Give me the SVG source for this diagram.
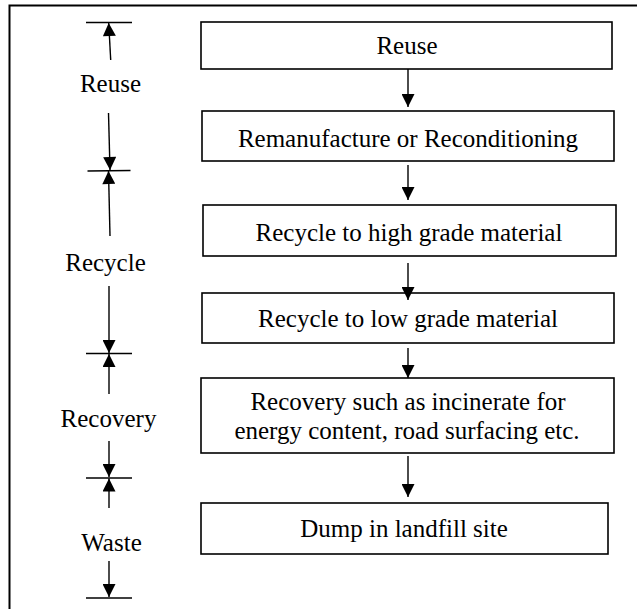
<svg xmlns="http://www.w3.org/2000/svg" width="637" height="609" viewBox="0 0 637 609">
<style>
text{font-family:"Liberation Serif","Times New Roman",serif;font-size:25px;fill:#000;text-anchor:middle}
.box{fill:#fff;stroke:#000;stroke-width:1.6}
.ln{stroke:#000;stroke-width:1.4;fill:none}
.bar{stroke:#000;stroke-width:1.5}
.frame{stroke:#000;stroke-width:2;fill:none}
</style>
<defs>
<marker id="ah" viewBox="0 0 10 10" refX="10" refY="5" markerWidth="14" markerHeight="13" markerUnits="userSpaceOnUse" orient="auto">
<path d="M0,0 L10,5 L0,10 z" fill="#000"/>
</marker>
</defs>
<g id="frame">
<path class="frame" d="M9.5,609 L9.5,5.5 L637,5.5"/>
</g>
<g id="node-reuse">
<rect class="box" x="201" y="22" width="411" height="47"/>
<text x="407" y="54">Reuse</text>
</g>
<g id="node-remanufacture">
<rect class="box" x="202" y="111" width="412" height="50"/>
<text x="408" y="147">Remanufacture or Reconditioning</text>
</g>
<g id="node-recycle-high">
<rect class="box" x="203" y="205" width="413" height="51"/>
<text x="409" y="241">Recycle to high grade material</text>
</g>
<g id="node-recycle-low">
<rect class="box" x="202" y="293" width="412" height="50"/>
<text x="408" y="327">Recycle to low grade material</text>
</g>
<g id="node-recovery">
<rect class="box" x="201" y="378" width="413" height="75"/>
<text x="408" y="410">Recovery such as incinerate for</text>
<text x="407" y="439">energy content, road surfacing etc.</text>
</g>
<g id="node-dump">
<rect class="box" x="201" y="503" width="407" height="51"/>
<text x="404" y="537">Dump in landfill site</text>
</g>
<g id="labels">
<text x="110.5" y="92">Reuse</text>
<text x="105.5" y="271">Recycle</text>
<text x="108.5" y="427">Recovery</text>
<text x="111.5" y="551">Waste</text>
</g>
<g id="connectors">
<line class="ln" x1="408" y1="69" x2="408" y2="107" marker-end="url(#ah)"/>
<line class="ln" x1="408" y1="165" x2="408" y2="200" marker-end="url(#ah)"/>
<line class="ln" x1="408" y1="263" x2="408" y2="300" marker-end="url(#ah)"/>
<line class="ln" x1="408" y1="348" x2="408" y2="378" marker-end="url(#ah)"/>
<line class="ln" x1="408" y1="456" x2="408" y2="497" marker-end="url(#ah)"/>
<line class="bar" x1="86" y1="22.5" x2="132" y2="22.5"/>
<line class="ln" x1="110.7" y1="60" x2="108.7" y2="23" marker-end="url(#ah)"/>
<line class="ln" x1="108.5" y1="113" x2="110" y2="170" marker-end="url(#ah)"/>
<line class="bar" x1="87.5" y1="171" x2="130.5" y2="170.5"/>
<line class="ln" x1="110" y1="236" x2="108.5" y2="171" marker-end="url(#ah)"/>
<line class="ln" x1="109" y1="286" x2="109" y2="353" marker-end="url(#ah)"/>
<line class="bar" x1="86" y1="353.5" x2="132" y2="353.5"/>
<line class="ln" x1="109" y1="394" x2="109" y2="354" marker-end="url(#ah)"/>
<line class="ln" x1="109" y1="441" x2="109" y2="477" marker-end="url(#ah)"/>
<line class="bar" x1="86" y1="478" x2="132" y2="478"/>
<line class="ln" x1="109" y1="508" x2="109" y2="478.5" marker-end="url(#ah)"/>
<line class="ln" x1="109" y1="561" x2="109" y2="597" marker-end="url(#ah)"/>
<line class="bar" x1="86" y1="598" x2="132" y2="598"/>
</g>
</svg>
